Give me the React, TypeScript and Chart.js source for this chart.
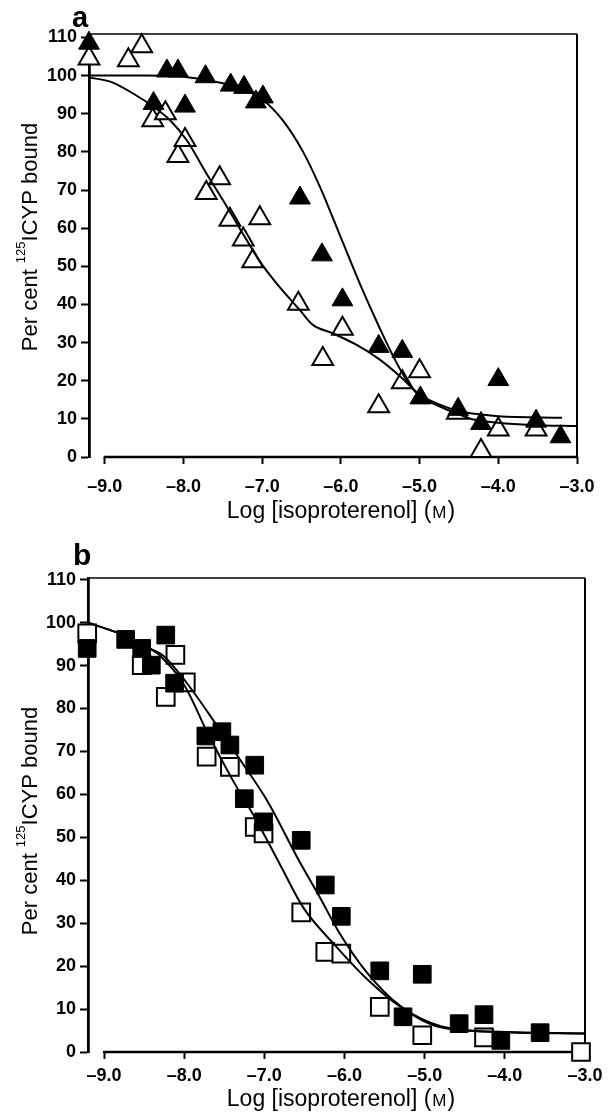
import React, { useEffect, useRef } from "react";
import { Chart, registerables } from "chart.js";

Chart.register(...registerables);

// ---------- shared axis ticks / titles ----------
const xTickValues = [-9, -8, -7, -6, -5, -4, -3];
const yTickValues = [0, 10, 20, 30, 40, 50, 60, 70, 80, 90, 100, 110];
const xTitleMain = "Log [isoproterenol] (";
const xTitleUnit = "M";
const xTitleEnd = ")";
const yTitleBefore = "Per cent ";
const yTitleSup = "125";
const yTitleAfter = "ICYP bound";

// ---------- panel a : filled triangles ----------
const aFilledX = [-9.2, -8.38, -8.21, -8.07, -7.98, -7.72, -7.4, -7.23, -7.08, -6.99, -6.52, -6.24, -5.98, -5.52, -5.22, -4.99, -4.51, -4.22, -4.0, -3.52, -3.21];
const aFilledY = [108.5, 92.7, 101.2, 101.2, 92.0, 99.7, 97.5, 96.9, 93.1, 94.4, 67.9, 53.0, 41.2, 29.0, 27.7, 15.5, 12.5, 8.8, 20.3, 9.4, 5.3];
// ---------- panel a : open triangles ----------
const aOpenX = [-9.2, -8.7, -8.53, -8.39, -8.23, -8.07, -7.98, -7.71, -7.54, -7.41, -7.24, -7.12, -7.03, -6.54, -6.23, -5.98, -5.52, -5.22, -5.0, -4.52, -4.22, -4.0, -3.52];
const aOpenY = [104.5, 104.0, 107.7, 88.3, 90.1, 78.9, 83.1, 69.2, 73.1, 62.2, 57.0, 51.3, 62.6, 40.2, 25.7, 33.6, 13.3, 19.6, 22.5, 11.6, 1.6, 7.2, 7.2];
// ---------- panel a : fitted curves ----------
const aFilledCurveX = [-9.2, -8.5, -8.0, -7.5, -7.2, -7.0, -6.74, -6.48, -6.27, -6.0, -5.75, -5.5, -5.3, -5.13, -5.0, -4.75, -4.5, -4.33, -4.0, -3.57, -3.0];
const aFilledCurveY = [100, 100, 99.7, 98.0, 96.0, 93.8, 88.3, 80.0, 71.0, 57.5, 45.0, 33.5, 25.0, 19.0, 16.0, 13.3, 11.2, 9.9, 9.0, 8.4, 8.1];
const aOpenCurveX = [-9.2, -8.93, -8.64, -8.38, -8.17, -7.96, -7.71, -7.45, -7.2, -7.03, -6.82, -6.52, -6.36, -6.1, -5.81, -5.51, -5.25, -5.0, -4.75, -4.5, -4.33, -4.0, -3.19];
const aOpenCurveY = [99.5, 98.4, 95.3, 91.8, 88.3, 83.1, 74.4, 65.7, 57.0, 51.3, 45.6, 38.5, 34.7, 32.4, 29.5, 25.6, 21.2, 16.4, 13.8, 12.0, 11.4, 10.7, 10.3];

// ---------- panel b : filled squares ----------
const bFilledX = [-9.21, -8.73, -8.53, -8.41, -8.23, -8.12, -7.73, -7.53, -7.43, -7.25, -7.12, -7.01, -6.54, -6.24, -6.04, -5.56, -5.27, -5.03, -4.57, -4.26, -4.05, -3.56];
const bFilledY = [94.0, 96.1, 94.0, 90.1, 97.1, 85.9, 73.6, 74.6, 71.5, 59.0, 66.8, 53.6, 49.3, 38.9, 31.6, 18.9, 8.2, 18.1, 6.6, 8.7, 2.7, 4.5];
// ---------- panel b : open squares ----------
const bOpenX = [-9.21, -8.53, -8.23, -8.11, -7.98, -7.72, -7.43, -7.12, -7.01, -6.54, -6.24, -6.04, -5.56, -5.03, -4.26, -3.05];
const bOpenY = [97.5, 90.1, 82.7, 92.5, 86.1, 68.8, 66.4, 52.4, 50.9, 32.5, 23.3, 22.9, 10.5, 3.9, 3.4, 0];
// ---------- panel b : fitted curves ----------
const bFilledCurveX = [-9.2, -8.73, -8.43, -8.26, -7.97, -7.59, -7.3, -6.97, -6.56, -6.31, -6.06, -5.72, -5.31, -4.81, -4.06, -3.0];
const bFilledCurveY = [100, 96.9, 94.0, 92.3, 86.0, 76.0, 68.0, 58.7, 44.3, 36.1, 27.6, 18.5, 10.8, 5.8, 4.7, 4.3];
const bOpenCurveX = [-9.2, -8.73, -8.43, -8.3, -8.0, -7.7, -7.4, -7.1, -6.8, -6.51, -6.14, -5.72, -5.3, -4.8, -4.0, -3.0];
const bOpenCurveY = [100, 96.9, 94.0, 92.3, 85.5, 74.0, 63.5, 54.0, 43.5, 33.5, 25.3, 17.0, 10.5, 6.0, 4.6, 4.3];

const FONT = "'Liberation Sans', Arial, Helvetica, sans-serif";

const toPts = (xs: number[], ys: number[]) => xs.map((x, i) => ({ x, y: ys[i] }));

const framePlugin = {
  id: "frame",
  beforeDatasetsDraw(chart: any) {
    const { ctx, chartArea: ca, scales } = chart;
    const x = scales.x;
    ctx.save();
    ctx.strokeStyle = "#000";
    ctx.lineCap = "butt";
    ctx.lineWidth = 1.6;
    ctx.beginPath();
    ctx.moveTo(ca.left, ca.top);
    ctx.lineTo(ca.right, ca.top);
    ctx.stroke();
    ctx.lineWidth = 2;
    ctx.beginPath();
    ctx.moveTo(ca.right, ca.top);
    ctx.lineTo(ca.right, ca.bottom);
    ctx.stroke();
    const x0 = x.getPixelForValue(xTickValues[0]);
    const x1 = x.getPixelForValue(xTickValues[xTickValues.length - 1]);
    ctx.lineWidth = 2.6;
    ctx.beginPath();
    ctx.moveTo(x0 - 1, ca.bottom);
    ctx.lineTo(Math.max(x1, ca.right) + 1, ca.bottom);
    ctx.stroke();
    ctx.restore();
  },
  afterDraw(chart: any, _args: any, opts: any) {
    const { ctx } = chart;
    ctx.save();
    ctx.fillStyle = "#000";
    // panel letter
    ctx.font = `bold ${opts.letterSize}px ${FONT}`;
    ctx.textAlign = "left";
    ctx.textBaseline = "alphabetic";
    ctx.fillText(opts.letter, opts.letterX, opts.letterY);
    // x title with small-caps unit
    const big = `${opts.titleSize}px ${FONT}`;
    const small = `${opts.unitSize}px ${FONT}`;
    ctx.font = big;
    const w1 = ctx.measureText(xTitleMain).width;
    const w3 = ctx.measureText(xTitleEnd).width;
    ctx.font = small;
    const w2 = ctx.measureText(xTitleUnit).width;
    const sx = opts.xTitleX - (w1 + w2 + w3) / 2;
    ctx.font = big;
    ctx.fillText(xTitleMain, sx, opts.xTitleY);
    ctx.font = small;
    ctx.fillText(xTitleUnit, sx + w1 + 1, opts.xTitleY);
    ctx.font = big;
    ctx.fillText(xTitleEnd, sx + w1 + w2 + 2, opts.xTitleY);
    // y title, rotated, with superscript
    const yBig = `${opts.yTitleSize}px ${FONT}`;
    const supFont = `${opts.supSize}px ${FONT}`;
    ctx.font = yBig;
    const a1 = ctx.measureText(yTitleBefore).width;
    const a3 = ctx.measureText(yTitleAfter).width;
    ctx.font = supFont;
    const a2 = ctx.measureText(yTitleSup).width;
    ctx.translate(opts.yTitleX, opts.yTitleY);
    ctx.rotate(-Math.PI / 2);
    const tx = -(a1 + a2 + a3) / 2;
    ctx.font = yBig;
    ctx.fillText(yTitleBefore, tx, 0);
    ctx.font = supFont;
    ctx.fillText(yTitleSup, tx + a1, -opts.supRaise);
    ctx.font = yBig;
    ctx.fillText(yTitleAfter, tx + a1 + a2, 0);
    ctx.restore();
  },
};

function buildConfig(p: any) {
  const tickFont = { family: FONT, size: 18, weight: "bold" as const };
  const curve = (xs: number[], ys: number[]) => ({
    data: toPts(xs, ys),
    showLine: true,
    borderColor: "#000",
    borderWidth: 2,
    pointRadius: 0,
    fill: false,
    cubicInterpolationMode: "monotone",
    order: 0,
  });
  const marks = (xs: number[], ys: number[], filled: boolean, order: number) => ({
    data: toPts(xs, ys),
    showLine: false,
    pointStyle: p.pointStyle,
    pointRadius: p.pointRadius,
    backgroundColor: filled ? "#000" : "#fff",
    borderColor: "#000",
    borderWidth: filled ? 1 : 2,
    clip: false,
    order,
  });
  return {
    type: "scatter",
    data: {
      datasets: [
        curve(p.c1x, p.c1y),
        curve(p.c2x, p.c2y),
        marks(p.fx, p.fy, true, 1),
        marks(p.ox, p.oy, false, 2),
      ],
    },
    options: {
      animation: false,
      responsive: false,
      maintainAspectRatio: false,
      layout: { padding: { top: p.padTop, right: p.padRight, left: 0, bottom: 0 } },
      plugins: {
        legend: { display: false },
        tooltip: { enabled: false },
        frame: p.frame,
      },
      scales: {
        x: {
          type: "linear",
          min: p.xMin,
          max: p.xMax,
          afterFit: (s: any) => {
            s.height = p.xAxisHeight;
          },
          afterBuildTicks: (s: any) => {
            s.ticks = xTickValues.map((v) => ({ value: v }));
          },
          grid: { display: true, drawOnChartArea: false, drawTicks: true, tickLength: 7, tickWidth: 2, tickColor: "#000" },
          border: { display: false },
          ticks: {
            padding: p.xTickPad,
            color: "#000",
            font: tickFont,
            maxRotation: 0,
            autoSkip: false,
            callback: (v: any) => "\u2013" + Math.abs(Number(v)).toFixed(1),
          },
        },
        y: {
          type: "linear",
          min: 0,
          max: p.yMax,
          afterFit: (s: any) => {
            s.width = p.yAxisWidth;
          },
          afterBuildTicks: (s: any) => {
            s.ticks = yTickValues.map((v) => ({ value: v }));
          },
          grid: { display: true, drawOnChartArea: false, drawTicks: true, tickLength: 8, tickWidth: 2, tickColor: "#000" },
          border: { display: true, width: 2.8, color: "#000" },
          ticks: {
            padding: 4,
            color: "#000",
            font: tickFont,
            autoSkip: false,
            callback: (v: any) => String(v),
          },
        },
      },
    },
    plugins: [framePlugin],
  };
}

const panelA = {
  c1x: aFilledCurveX, c1y: aFilledCurveY,
  c2x: aOpenCurveX, c2y: aOpenCurveY,
  fx: aFilledX, fy: aFilledY,
  ox: aOpenX, oy: aOpenY,
  pointStyle: "triangle",
  pointRadius: 12,
  xMin: -9.2, xMax: -3.0, yMax: 110.9,
  padTop: 34, padRight: 35, yAxisWidth: 89, xAxisHeight: 73, xTickPad: 12,
  frame: {
    letter: "a", letterSize: 29, letterX: 72, letterY: 27,
    titleSize: 23, unitSize: 17, xTitleX: 340, xTitleY: 518,
    yTitleSize: 22, supSize: 13, supRaise: 12, yTitleX: 37, yTitleY: 237,
  },
};

const panelB = {
  c1x: bFilledCurveX, c1y: bFilledCurveY,
  c2x: bOpenCurveX, c2y: bOpenCurveY,
  fx: bFilledX, fy: bFilledY,
  ox: bOpenX, oy: bOpenY,
  pointStyle: "rect",
  pointRadius: 12.5,
  xMin: -9.2, xMax: -3.0, yMax: 110.4,
  padTop: 48, padRight: 27, yAxisWidth: 88, xAxisHeight: 61, xTickPad: 6,
  frame: {
    letter: "b", letterSize: 30, letterX: 73, letterY: 35,
    titleSize: 23, unitSize: 17, xTitleX: 340, xTitleY: 576,
    yTitleSize: 22, supSize: 13, supRaise: 12, yTitleX: 37, yTitleY: 291,
  },
};

function Panel({ cfg, top, height }: { cfg: any; top: number; height: number }) {
  const ref = useRef<HTMLCanvasElement>(null);
  useEffect(() => {
    if (!ref.current) return;
    const chart = new Chart(ref.current, buildConfig(cfg) as any);
    return () => chart.destroy();
  }, [cfg]);
  return (
    <canvas
      ref={ref}
      width={612}
      height={height}
      style={{ position: "absolute", left: 0, top, width: 612, height }}
    />
  );
}

export default function App() {
  useEffect(() => {
    document.body.style.margin = "0";
    document.body.style.background = "#fff";
  }, []);
  return (
    <div style={{ position: "relative", width: 612, height: 1113, background: "#fff" }}>
      <Panel cfg={panelA} top={0} height={530} />
      <Panel cfg={panelB} top={530} height={583} />
    </div>
  );
}
